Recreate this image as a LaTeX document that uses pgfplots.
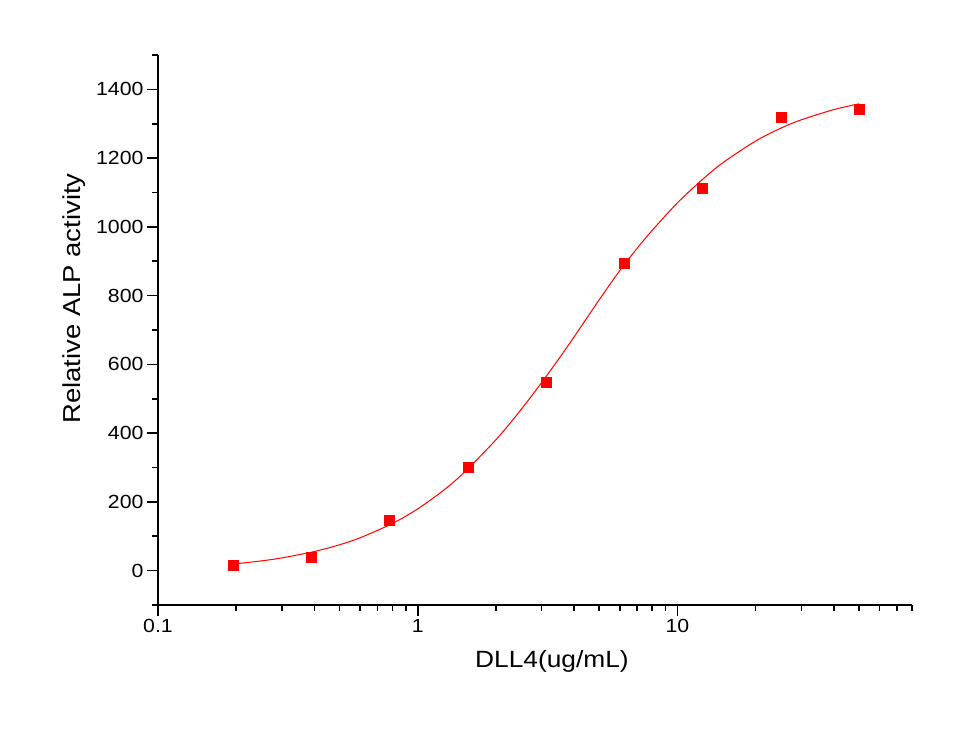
\documentclass[border=0pt]{standalone}
\usepackage{fontspec}
\setmainfont{Liberation Sans}[FakeStretch=1.12]
\usepackage{pgfplots}
\pgfplotsset{compat=1.18}
\begin{document}
\begin{tikzpicture}
\path[use as bounding box, fill=white] (0,0) rectangle (966bp,731bp);
\begin{axis}[
  at={(158bp,126bp)}, anchor=south west,
  scale only axis, width=754bp, height=550bp,
  xmode=log, xmin=0.1, xmax=80, ymin=-100, ymax=1500,
  axis x line*=bottom, axis y line*=left,
  axis line style={line width=2bp, black},
  xtick={0.1,1,10}, xticklabels={0.1,1,10},
  minor xtick={0.2,0.3,0.4,0.5,0.6,0.7,0.8,0.9,2,3,4,5,6,7,8,9,20,30,40,50,60,70,80},
  ytick={0,200,400,600,800,1000,1200,1400},
  minor ytick={-100,100,300,500,700,900,1100,1300,1500},
  yticklabels={0,200,400,600,800,1000,1200,1400},
  tick align=outside,
  major tick length=11bp, minor tick length=6bp,
  every tick/.style={line width=1.6bp, black},
  ticklabel style={font=\fontsize{19bp}{23bp}\selectfont},
  xlabel={DLL4(ug/mL)},
  ylabel={Relative ALP activity},
  xlabel style={font=\fontsize{23.5bp}{28bp}\selectfont, at={(axis description cs:0.5225,-0.1145)}, anchor=base},
  ylabel style={font=\fontsize{24.5bp}{29bp}\selectfont, at={(axis description cs:-0.1034,0.5573)}, anchor=base},
  clip=false,
]
\addplot[red, line width=1bp, smooth] coordinates {
(0.195,19.1) (0.25,28.3) (0.3,37.0) (0.4,55.6) (0.5,75.2) (0.6,95.5)
(0.8,137.3) (1.0,179.6) (1.25,232.2) (1.5,283.7) (2,380.6) (2.5,468.5)
(3,547.1) (3.5,616.9) (4,680) (5,788) (6,873) (7,938) (8,990)
(10,1070) (12.5,1138.3) (15,1187.3) (20,1249.7) (25,1287.1) (30,1311.5)
(40,1341.1) (50,1358.0)
};
\addplot[only marks, mark=square*, mark size=5bp, mark options={fill=red, draw=red}] coordinates {
(0.195,14.6) (0.39,38.7) (0.78,145.5) (1.5625,300.7) (3.125,549.2)
(6.25,894.4) (12.5,1112.7) (25,1319.4) (50,1341)
};
\end{axis}
\end{tikzpicture}
\end{document}
